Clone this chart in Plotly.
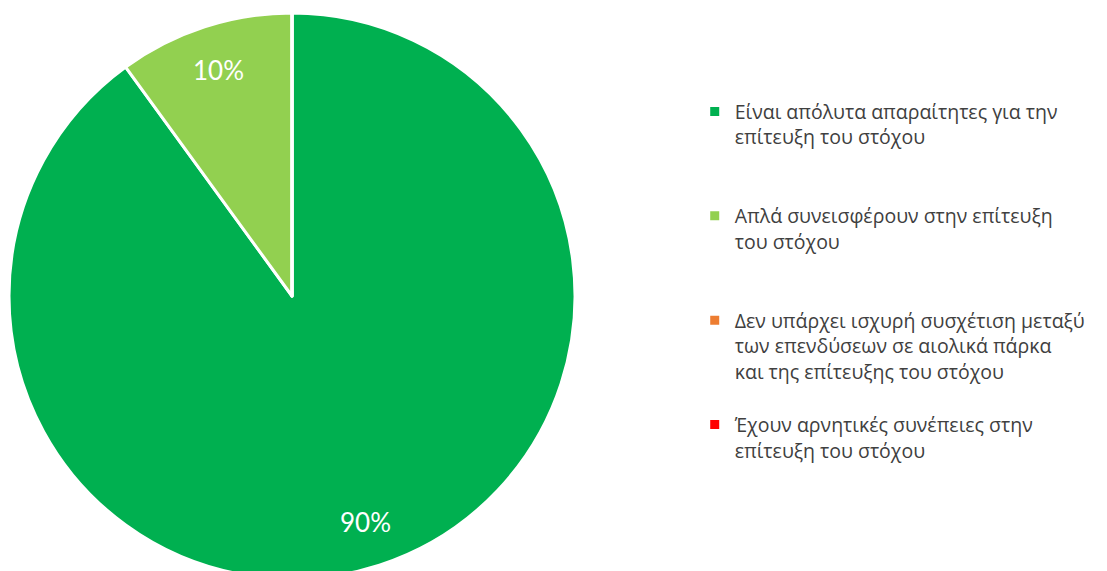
import math
import plotly.graph_objects as go

categories = [
    "Είναι απόλυτα απαραίτητες για την<br>επίτευξη του στόχου",
    "Απλά συνεισφέρουν στην επίτευξη<br>του στόχου",
    "Δεν υπάρχει ισχυρή συσχέτιση μεταξύ<br>των επενδύσεων σε αιολικά πάρκα<br>και της επίτευξης του στόχου",
    "Έχουν αρνητικές συνέπειες στην<br>επίτευξη του στόχου",
]
values = [90, 10, 0, 0]
colors = ["#00B050", "#92D050", "#ED7D31", "#FF0000"]

# pad entries so every legend entry takes the same vertical space (4 lines)
legend_labels = [c + "<br> " * (4 - 1 - c.count("<br>")) for c in categories]

W, H = 1107, 571
ML, MT, MR, MB = 1, 5, 0, 0
plot_w = W - ML - MR
plot_h = H - MT - MB
diam = plot_h  # pie fills full height
dx = diam / plot_w

fig = go.Figure(
    go.Pie(
        labels=legend_labels,
        values=values,
        sort=False,
        direction="clockwise",
        rotation=0,
        marker=dict(colors=colors, line=dict(color="white", width=3)),
        textinfo="none",
        domain=dict(x=[0, dx], y=[0, 1]),
        hoverinfo="label+percent",
    )
)

# percentage labels placed along each slice's bisector
total = sum(values)
cx, cy = dx / 2, 0.5
rx, ry = (diam / 2) / plot_w, 0.5
cum = 0
for v in values:
    if v > 0:
        mid = (cum + v / 2) / total * 2 * math.pi
        k = 0.84
        fig.add_annotation(
            x=cx + k * rx * math.sin(mid),
            y=cy + k * ry * math.cos(mid),
            xref="paper",
            yref="paper",
            xanchor="center",
            yanchor="middle",
            text=f"{round(v / total * 100)}%",
            showarrow=False,
            font=dict(color="white", size=26, family="Lato"),
        )
    cum += v

fig.update_layout(
    width=W,
    height=H,
    margin=dict(l=ML, r=MR, t=MT, b=MB),
    paper_bgcolor="white",
    plot_bgcolor="white",
    showlegend=True,
    legend=dict(
        x=0.62,
        y=0.86,
        xanchor="left",
        yanchor="top",
        valign="top",
        font=dict(size=19.5, family="Open Sans", color="#404040"),
        itemwidth=30,
    ),
)

fig.write_html("out.html")
